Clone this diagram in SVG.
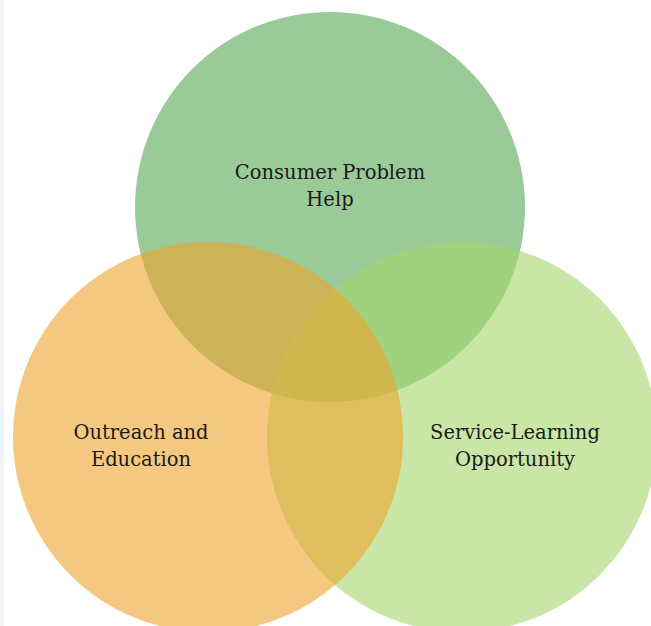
<svg xmlns="http://www.w3.org/2000/svg" width="651" height="626" viewBox="0 0 651 626">
<style>
.c{fill-opacity:0.6}
.t{font-family:"DejaVu Serif","Liberation Serif",serif;font-size:19.5px;fill:#1a1a1a;text-anchor:middle}
</style>
<rect x="0" y="0" width="651" height="626" fill="#ffffff"/>
<rect x="0" y="0" width="4" height="626" fill="#eff4f8"/>
<g id="consumer-problem-help">
<circle class="c" cx="330" cy="207" r="195" fill="#55a752"/>
</g>
<g id="service-learning-opportunity">
<circle class="c" cx="462" cy="437" r="195" fill="#a5d56b"/>
</g>
<g id="outreach-and-education">
<circle class="c" cx="208" cy="437" r="195" fill="#eea32f"/>
</g>
<g id="labels">
<text class="t" x="330" y="179">Consumer Problem</text>
<text class="t" x="330" y="206">Help</text>
<text class="t" x="141" y="439">Outreach and</text>
<text class="t" x="141" y="466">Education</text>
<text class="t" x="515" y="439">Service-Learning</text>
<text class="t" x="515" y="466">Opportunity</text>
</g>
<g id="connectors"></g>
</svg>
